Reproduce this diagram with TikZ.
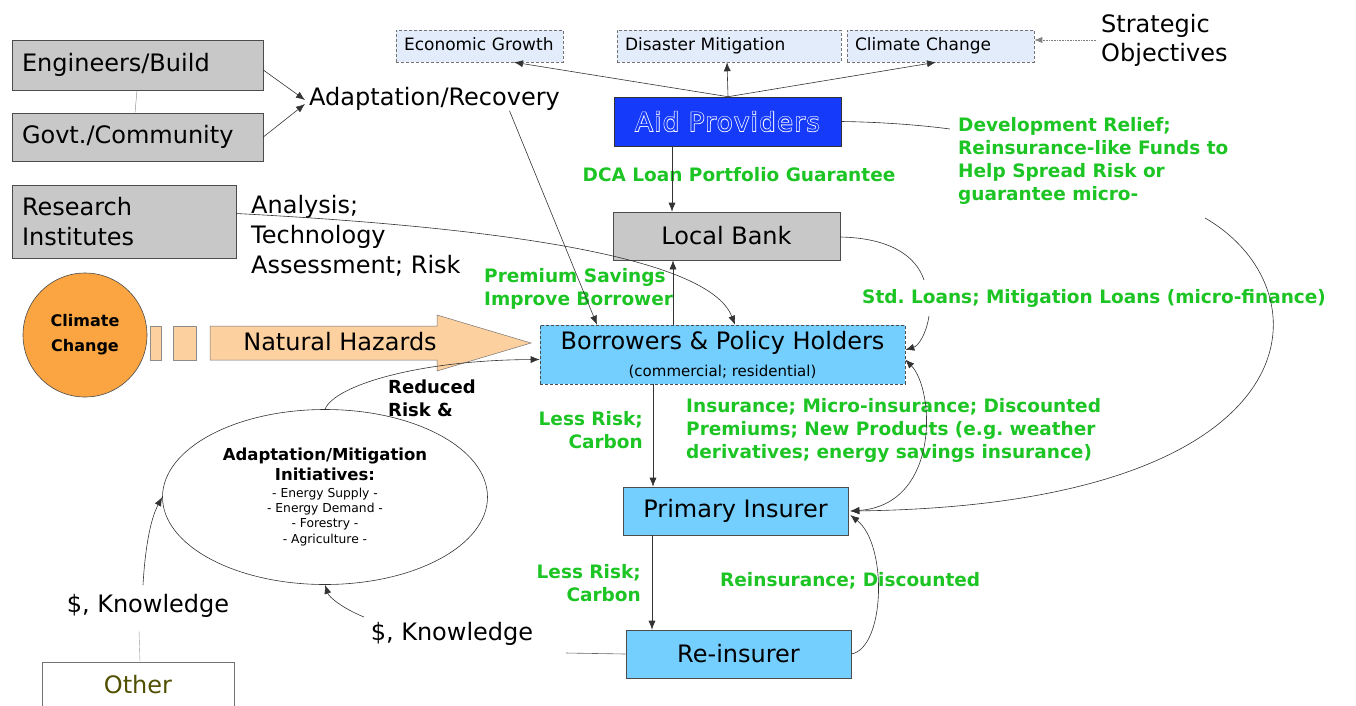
\documentclass[tikz,border=0pt]{standalone}
\usepackage{fontspec}
\setmainfont{DejaVu Sans}
\newfontfamily\aidoutline[FakeBold=5,LetterSpace=5]{DejaVu Sans}
\newfontfamily\aidinner[LetterSpace=5]{DejaVu Sans}
\usetikzlibrary{arrows.meta,shapes.geometric,calc}
\definecolor{boxgray}{RGB}{200,200,200}
\definecolor{lblue}{RGB}{116,207,255}
\definecolor{toplite}{RGB}{226,236,250}
\definecolor{aidblue}{RGB}{22,58,250}
\definecolor{ccorange}{RGB}{250,165,65}
\definecolor{peach}{RGB}{253,208,160}
\definecolor{grn}{RGB}{28,196,36}
\definecolor{olive}{RGB}{80,80,0}
\frenchspacing
\begin{document}
\frenchspacing
\begin{tikzpicture}[x=1pt,y=-1pt,
  every node/.style={inner sep=0pt},
  graybox/.style={draw=black!70, fill=boxgray, line width=0.6pt, font=\fontsize{24}{30}\selectfont},
  bluebox/.style={draw=black!70, fill=lblue, line width=0.6pt, font=\fontsize{24}{30}\selectfont},
  topbox/.style={draw=black!55, densely dashed, fill=toplite, line width=0.5pt, font=\fontsize{17}{21}\selectfont, align=left, inner xsep=8pt, text height=12.5pt, text depth=3.5pt},
  greentxt/.style={text=grn, font=\bfseries\fontsize{18.5}{23}\selectfont, align=left},
  plaintxt/.style={font=\fontsize{24}{30}\selectfont, align=left},
  conn/.style={draw=black!80, line width=0.6pt},
  arr/.style={conn, -{Latex[length=9pt,width=7pt]}},
  dblarr/.style={conn, {Latex[length=9pt,width=7pt]}-{Latex[length=9pt,width=7pt]}}]
\useasboundingbox (0,0) rectangle (1356,705);

% ---- top objectives
\node[topbox, minimum width=167, minimum height=32, text width=151] (econ) at (479.5,46) {Economic Growth};
\node[topbox, minimum width=224, minimum height=32, text width=208] (dis) at (729,46) {Disaster Mitigation};
\node[topbox, minimum width=187, minimum height=32, text width=171] (clim) at (940.5,46) {Climate Change};
\node[font=\fontsize{24}{29}\selectfont, align=left, anchor=west] (strat) at (1101,40) {Strategic\\Objectives};
\draw[conn, draw=black!50, densely dotted, -{Latex[length=8pt,width=6pt]}] ([xshift=-5]strat.west) -- (clim.east |- strat.west);

% ---- aid providers
\node[draw=black!80, fill=aidblue, line width=0.6pt, minimum width=227, minimum height=49, font=\fontsize{26}{30}\selectfont, text=white] (aid) at (727.5,121.5)
  {\aidoutline Aid Providers};
\node[font=\fontsize{26}{30}\selectfont, text=aidblue] (aidtext) at (aid.center) {\aidinner Aid Providers};
\draw[arr] ([xshift=0.5]aid.north) -- ([xshift=34.5]econ.south);
\draw[arr] ([xshift=0.5]aid.north) -- ([xshift=-2]dis.south);
\draw[arr] ([xshift=0.5]aid.north) -- ([xshift=-4.5]clim.south);

% ---- local bank
\node[greentxt, anchor=center] (dca) at (739,175) {DCA Loan Portfolio Guarantee};
\node[graybox, minimum width=227, minimum height=48] (bank) at (726.5,236) {Local Bank};
\draw[arr] ([xshift=-55.5]aid.south) -- ([xshift=-54.5]bank.north);

% ---- development relief label and curve
\node[greentxt, anchor=north west] (dev) at (958,117) {Development Relief;\\Reinsurance-like Funds to\\Help Spread Risk or\\guarantee micro-};
\coordinate (devin) at (950,129);
\coordinate (devout) at (1205,218);
\draw[conn] (aid.east) .. controls (880,122) and (920,125) .. (devin);

% ---- left boxes
\node[graybox, minimum width=251, minimum height=50, text width=231, align=left, inner xsep=10pt] (eng) at (137.5,65) {\raisebox{4pt}{Engineers/Build}};
\node[graybox, minimum width=251, minimum height=48, text width=231, align=left, inner xsep=10pt] (gov) at (137.5,137) {Govt./Community};
\draw[conn, draw=black!50, line width=0.4pt] ([xshift=-0.5]eng.south) -- ([xshift=-2.5]gov.north);
\node[plaintxt, anchor=west] (adrec) at (309,99) {Adaptation/Recovery};
\draw[arr] ([yshift=-5]eng.east) -- (305,100);
\draw[arr] (gov.east) -- (305,104);

\node[graybox, minimum width=224, minimum height=73, text width=204, align=left, inner xsep=10pt] (res) at (124,221.5) {Research\\Institutes};
\node[plaintxt, anchor=west, font=\fontsize{24}{30}\selectfont] (anal) at (251,236) {Analysis;\\Technology\\Assessment; Risk};

% ---- borrowers
\node[bluebox, densely dashed, minimum width=365, minimum height=59, align=center, font=\fontsize{24}{28}\selectfont] (borr) at (722.5,354.5)
  {Borrowers \& Policy Holders\\[-1pt]\fontsize{15}{18}\selectfont (commercial; residential)};
\node[greentxt, anchor=west] (prem) at (484,289) {Premium Savings\\Improve Borrower};
\draw[arr] ([xshift=-49.5]borr.north) -- ([xshift=-53.5]bank.south);
\draw[arr] ([xshift=75]adrec.south) -- ([xshift=-125.5]borr.north);
\draw[arr] ([yshift=8]res.east) .. controls (550,230) and (712,265) .. ([xshift=12.5]borr.north);

% ---- std loans
\node[greentxt, anchor=west, fill=white, inner ysep=3pt] (std) at (862,298) {Std. Loans; Mitigation Loans (micro-finance)};
\coordinate (stdin) at (924,280);
\coordinate (stdout) at (929,316);
\draw[conn] ([yshift=-1]bank.east) .. controls (890,238) and (916,256) .. (stdin);
\draw[arr] (stdout) .. controls (926,335) and (918,346) .. ([yshift=4.5]borr.east);

% ---- climate change & hazards
\node[circle, draw=black!70, fill=ccorange, line width=0.6pt, minimum size=124, align=center, font=\bfseries\fontsize{16}{25}\selectfont] (cc) at (85,335) {Climate\\Change};
\node[draw=black!45, fill=peach, minimum width=11, minimum height=34] (r1) at (155.5,343) {};
\node[draw=black!45, fill=peach, minimum width=23, minimum height=34] (r2) at (184.5,343) {};
\draw[draw=black!55, fill=peach, line width=0.5pt] (210,326) -- (437,326) -- (437,315) -- (531,343) -- (437,371) -- (437,360) -- (210,360) -- cycle;
\node[plaintxt] (haz) at (340,342) {Natural Hazards};

% ---- ellipse
\node[ellipse, draw=black!80, line width=0.6pt, minimum width=325, minimum height=175, align=center, font=\fontsize{12.3}{15.4}\selectfont] (ell) at (325,497)
  {{\bfseries\fontsize{16.5}{19}\selectfont Adaptation/Mitigation}\\[3pt]{\bfseries\fontsize{16.5}{19}\selectfont Initiatives:}\\[1pt]
   - Energy Supply -\\- Energy Demand -\\- Forestry -\\- Agriculture -};
\node[font=\bfseries\fontsize{18}{23}\selectfont, align=left, anchor=west] (red) at (388,398) {Reduced\\Risk \&};
\draw[arr] ([xshift=0]ell.north) .. controls (335,385) and (420,360) .. ([yshift=-5]borr.west);

% ---- insurers
\node[bluebox, minimum width=225, minimum height=48] (prim) at (735.5,511) {Primary Insurer};
\node[bluebox, minimum width=225, minimum height=48] (rein) at (738.5,654) {Re-insurer};
\draw[arr] ([xshift=-69.5]borr.south) -- ([xshift=-82.5]prim.north);
\draw[arr] ([xshift=-83.5]prim.south) -- ([xshift=-86.5]rein.north);
\node[greentxt, align=right, anchor=east] (lr1) at (643,430) {Less Risk;\\Carbon};
\node[greentxt, align=right, anchor=east] (lr2) at (641,583) {Less Risk;\\Carbon};
\node[greentxt, anchor=west] (ins) at (686,430) {Insurance; Micro-insurance; Discounted\\Premiums; New Products (e.g. weather\\derivatives; energy savings insurance)};
\draw[dblarr] ([yshift=-5]borr.east) .. controls (935,390) and (940,505) .. ([xshift=2]prim.east);
\draw[arr] (devout) .. controls (1330,290) and (1320,505) .. ([xshift=2]prim.east);

\node[greentxt, anchor=west, fill=white, inner ysep=4pt] (reinlab) at (720,581) {Reinsurance; Discounted};
\draw[arr] (rein.east) .. controls (885,648) and (888,545) .. ([xshift=2,yshift=-4]prim.east);

% ---- knowledge flows
\node[plaintxt] (know2) at (452,634) {\$, Knowledge};
\node[plaintxt] (know1) at (148,606) {\$, Knowledge};
\draw[conn, draw=black!60] (rein.west) -- (566,653);
\draw[arr] (364,617) .. controls (342,608) and (329,597) .. (ell.south);
\node[draw=black!55, fill=white, line width=0.5pt, minimum width=192, minimum height=46, font=\fontsize{24}{30}\selectfont, text=olive] (other) at (138,685) {Other};
\draw[conn, draw=black!40, line width=0.4pt] ([xshift=2]other.north) -- (139,631);
\draw[arr] (143,585) .. controls (145,550) and (150,520) .. (ell.west);
\end{tikzpicture}
\end{document}
